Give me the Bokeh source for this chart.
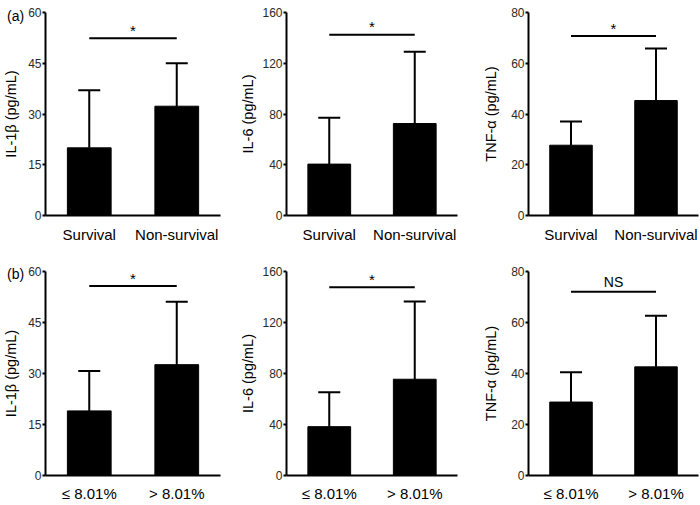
from bokeh.plotting import figure
from bokeh.layouts import column, row
from bokeh.models import Range1d, FixedTicker, Label, ColumnDataSource, FactorRange, Div
from bokeh.embed import file_html
from bokeh.resources import INLINE

# ---- data ----
cats_a = ["Survival", "Non-survival"]
cats_b = ["\u2264 8.01%", "> 8.01%"]

il1b_mean_a = [20.0, 32.3]
il1b_sd_a = [17.0, 12.7]
il6_mean_a = [40.5, 72.5]
il6_sd_a = [36.5, 56.5]
tnf_mean_a = [27.7, 45.3]
tnf_sd_a = [9.3, 20.5]

il1b_mean_b = [19.0, 32.6]
il1b_sd_b = [11.7, 18.5]
il6_mean_b = [38.3, 75.5]
il6_sd_b = [27.0, 61.0]
tnf_mean_b = [28.8, 42.6]
tnf_sd_b = [11.7, 20.0]

sig_y_a = [52.4, 142.4, 70.7]
sig_y_b = [55.7, 147.7, 72.1]
sig_text_a = ["*", "*", "*"]
sig_text_b = ["*", "*", "NS"]

yticks_il1b = [0, 15, 30, 45, 60]
yticks_il6 = [0, 40, 80, 120, 160]
yticks_tnf = [0, 20, 40, 60, 80]

ylabels = ["IL-1\u03b2 (pg/mL)", "IL-6 (pg/mL)", "TNF-\u03b1 (pg/mL)"]

FONT = "Liberation Sans"


def panel(cats, means, sds, sig_y, sig_text, ylabel, yticks, fw, bl, br, fh, bt, bb,
          label_standoff, x_standoff):
    tops = [m + s for m, s in zip(means, sds)]
    p = figure(x_range=FactorRange(factors=cats, range_padding=0),
               y_range=Range1d(yticks[0], yticks[-1]),
               frame_width=fw, frame_height=fh,
               min_border_left=bl, min_border_right=br,
               min_border_top=bt, min_border_bottom=bb,
               output_backend="svg", toolbar_location=None)
    p.outline_line_color = None
    p.xgrid.grid_line_color = None
    p.ygrid.grid_line_color = None
    p.background_fill_color = None
    p.border_fill_color = None

    src = ColumnDataSource(dict(x=cats, m=means, t=tops))
    p.vbar(x="x", top="m", width=0.5, source=src, fill_color="black", line_color="black")
    p.segment(x0="x", y0="m", x1="x", y1="t", source=src, line_color="black", line_width=2)
    p.dash(x="x", y="t", size=22, source=src, line_color="black", line_width=2)

    p.segment(x0=[cats[0]], y0=[sig_y], x1=[cats[1]], y1=[sig_y], line_color="black", line_width=2)
    if sig_text == "*":
        p.add_layout(Label(x=fw / 2, y=sig_y, x_units="screen", y_units="data", text=sig_text,
                           text_align="center", text_baseline="alphabetic", y_offset=8,
                           text_font=FONT, text_font_size="15px", text_color="black"))
    else:
        p.add_layout(Label(x=fw / 2, y=sig_y, x_units="screen", y_units="data", text=sig_text,
                           text_align="center", text_baseline="alphabetic", y_offset=10,
                           text_font=FONT, text_font_size="14px", text_color="black"))

    yax = p.yaxis[0]
    yax.ticker = FixedTicker(ticks=yticks)
    yax.minor_tick_line_color = None
    yax.major_tick_in = 0
    yax.major_tick_out = 3
    yax.major_tick_line_width = 2
    yax.axis_line_width = 2
    yax.major_label_standoff = 1
    yax.major_label_text_font = FONT
    yax.major_label_text_font_size = "12px"
    yax.major_label_text_color = "#2a2a2a"
    yax.axis_label = ylabel
    yax.axis_label_standoff = label_standoff
    yax.axis_label_text_font = FONT
    yax.axis_label_text_font_size = "14.5px"
    yax.axis_label_text_font_style = "normal"
    yax.axis_label_text_color = "black"

    xax = p.xaxis[0]
    xax.major_tick_line_color = None
    xax.minor_tick_line_color = None
    xax.major_tick_out = 0
    xax.major_tick_in = 0
    xax.axis_line_width = 2
    xax.major_label_standoff = x_standoff
    xax.major_label_text_font = FONT
    xax.major_label_text_font_size = "15px"
    xax.major_label_text_color = "black"
    return p


p1 = panel(cats_a, il1b_mean_a, il1b_sd_a, sig_y_a[0], sig_text_a[0], ylabels[0], yticks_il1b,
           175, 43, 17, 203, 12, 47, 6, 10)
p2 = panel(cats_a, il6_mean_a, il6_sd_a, sig_y_a[1], sig_text_a[1], ylabels[1], yticks_il6,
           171, 47, 23, 203, 12, 47, 3, 10)
p3 = panel(cats_a, tnf_mean_a, tnf_sd_a, sig_y_a[2], sig_text_a[2], ylabels[2], yticks_tnf,
           170, 47, 5, 203, 12, 47, 9, 10)
p4 = panel(cats_b, il1b_mean_b, il1b_sd_b, sig_y_b[0], sig_text_b[0], ylabels[0], yticks_il1b,
           175, 43, 17, 204, 9, 29, 6, 9)
p5 = panel(cats_b, il6_mean_b, il6_sd_b, sig_y_b[1], sig_text_b[1], ylabels[1], yticks_il6,
           171, 47, 23, 204, 9, 29, 3, 9)
p6 = panel(cats_b, tnf_mean_b, tnf_sd_b, sig_y_b[2], sig_text_b[2], ylabels[2], yticks_tnf,
           170, 47, 5, 204, 9, 29, 9, 9)

tag_style = {"position": "absolute", "left": "2px", "font-family": FONT,
             "font-size": "14px", "color": "black", "z-index": "10", "line-height": "16px"}
tag_a = Div(text="(a)", styles=dict(tag_style, top="3px"))
tag_b = Div(text="(b)", styles=dict(tag_style, top="261px"))

layout = column(tag_a, tag_b, row(p1, p2, p3), row(p4, p5, p6))
open("out.html", "w").write(file_html(layout, INLINE))
